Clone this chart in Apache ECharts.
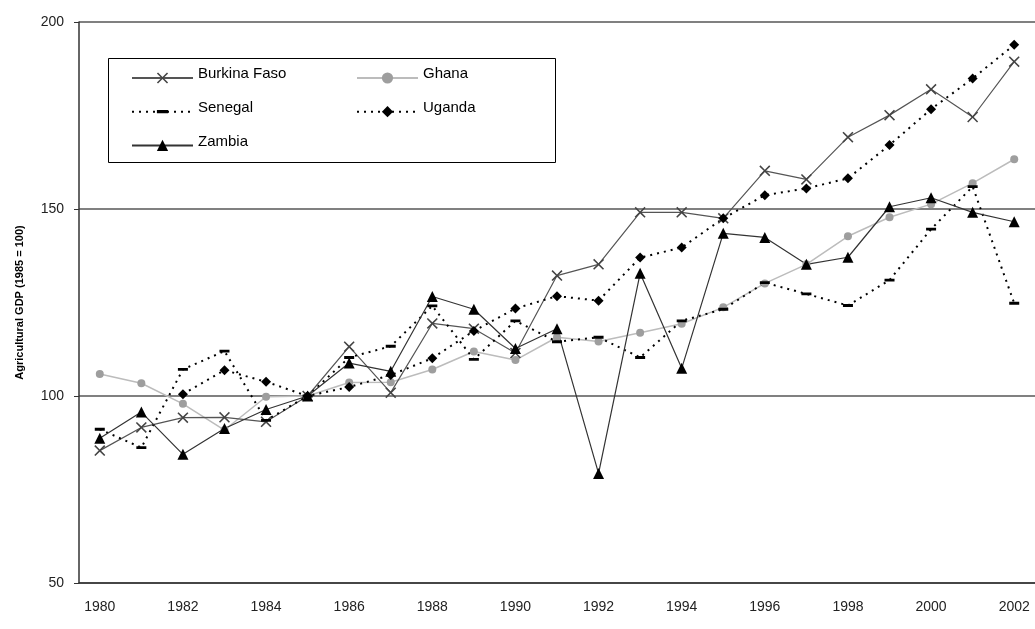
<!DOCTYPE html>
<html>
<head>
<meta charset="utf-8">
<script src="https://cdn.jsdelivr.net/npm/echarts@6/dist/echarts.min.js"></script>
<style>
html,body{margin:0;padding:0;background:#fff;}
#chart{width:1035px;height:629px;}
</style>
</head>
<body>
<div id="chart"></div>
<script>
var years = ['1980','1981','1982','1983','1984','1985','1986','1987','1988','1989','1990','1991','1992','1993','1994','1995','1996','1997','1998','1999','2000','2001','2002'];
var burkinaFaso = [85.4, 91.6, 94.2, 94.3, 93.1, 100, 113.2, 100.9, 119.4, 118.0, 111.5, 132.2, 135.2, 149.1, 149.1, 147.5, 160.2, 157.9, 169.2, 175.1, 182.0, 174.6, 189.4];
var ghana = [105.9, 103.4, 97.9, 90.9, 99.8, 100, 103.6, 103.7, 107.1, 111.9, 109.6, 115.7, 114.6, 116.9, 119.3, 123.7, 130.1, 135.2, 142.7, 147.8, 151.3, 156.9, 163.3];
var senegal = [91.1, 86.2, 107.1, 112.0, 93.5, 100, 110.3, 113.3, 124.1, 109.8, 120.1, 114.5, 115.7, 110.3, 120.1, 123.2, 130.3, 127.3, 124.2, 131.0, 144.6, 156.0, 124.8];
var uganda = [null, null, 100.5, 106.9, 103.8, 100, 102.4, 105.6, 110.1, 117.4, 123.4, 126.7, 125.5, 137.0, 139.7, 147.5, 153.7, 155.5, 158.2, 167.1, 176.7, 184.9, 193.9];
var zambia = [88.7, 95.7, 84.4, 91.3, 96.4, 100, 108.8, 106.6, 126.6, 123.2, 112.7, 118.0, 79.3, 132.8, 107.4, 143.5, 142.4, 135.2, 137.1, 150.6, 153.0, 149.1, 146.6];
var yTicks = {min: 50, max: 200, interval: 50};
var yAxisName = 'Agricultural GDP (1985 = 100)';

var FONT = 'Arial, "Liberation Sans", sans-serif';
var crossPath = 'path://M0,1L1,0L5,4L9,0L10,1L6,5L10,9L9,10L5,6L1,10L0,9L4,5Z';
// thin bar inside a square box (tiny corner points keep the box square)
var dashPath = 'path://M0,0L0.01,0L0,0.01Z M0,4.3L12,4.3L12,7.7L0,7.7Z M12,12L11.99,12L12,11.99Z';

var legendCommon = {
  z: 60, orient: 'vertical', top: 66.5, padding: 0,
  itemWidth: 61, itemHeight: 14, itemGap: 16.6,
  formatter: '{a|{name}}',
  textStyle: {fontFamily: FONT, fontSize: 15, color: '#000',
    rich: {a: {fontFamily: FONT, fontSize: 15, color: '#000', padding: [0, 0, 8, 0]}}}
};

var chart = echarts.init(document.getElementById('chart'), null, {renderer: 'canvas'});
chart.setOption({
  backgroundColor: '#fff',
  animation: false,
  grid: {left: 79, top: 22, width: 967, height: 561, containLabel: false},
  graphic: [{
    type: 'rect', left: 108, top: 58, z: 50,
    shape: {width: 447, height: 104},
    style: {fill: '#fff', stroke: '#000', lineWidth: 1}
  }],
  legend: [
    Object.assign({}, legendCommon, {left: 131, data: ['Burkina Faso', 'Senegal', 'Zambia']}),
    Object.assign({}, legendCommon, {left: 356, data: ['Ghana', 'Uganda']})
  ],
  xAxis: {
    type: 'category', data: years, boundaryGap: true,
    axisLine: {lineStyle: {color: '#333', width: 1.5}},
    axisTick: {interval: 0, length: 5, lineStyle: {color: '#333'}},
    axisLabel: {interval: 1, margin: 17, fontFamily: FONT, fontSize: 14, color: '#222'},
    splitLine: {show: false}
  },
  yAxis: {
    type: 'value', min: yTicks.min, max: yTicks.max, interval: yTicks.interval,
    name: yAxisName, nameLocation: 'middle', nameGap: 54, nameRotate: 90,
    nameTextStyle: {fontFamily: FONT, fontSize: 11, fontWeight: 'bold', color: '#000'},
    axisLine: {show: true, lineStyle: {color: '#333', width: 1.5}},
    axisTick: {show: true, length: 5, lineStyle: {color: '#333'}},
    axisLabel: {margin: 15, fontFamily: FONT, fontSize: 14, color: '#222'},
    splitLine: {show: true, lineStyle: {color: '#808080', width: 2}}
  },
  series: [{
    name: 'Ghana', type: 'line', data: ghana,
    symbol: 'circle', symbolSize: 8,
    lineStyle: {color: '#bcbcbc', width: 1.5},
    itemStyle: {color: '#9e9e9e'}
  }, {
    name: 'Burkina Faso', type: 'line', data: burkinaFaso,
    symbol: crossPath, symbolSize: 11,
    lineStyle: {color: '#555', width: 1.2},
    itemStyle: {color: '#444'}
  }, {
    name: 'Senegal', type: 'line', data: senegal,
    symbol: dashPath, symbolSize: 10,
    lineStyle: {color: '#000', width: 2, type: [2, 5]},
    itemStyle: {color: '#000'}
  }, {
    name: 'Uganda', type: 'line', data: uganda, connectNulls: false,
    symbol: 'diamond', symbolSize: 10,
    lineStyle: {color: '#000', width: 2, type: [2, 5]},
    itemStyle: {color: '#000'}
  }, {
    name: 'Zambia', type: 'line', data: zambia,
    symbol: 'triangle', symbolSize: 11,
    lineStyle: {color: '#333', width: 1.2},
    itemStyle: {color: '#000'}
  }]
});
</script>
</body>
</html>
